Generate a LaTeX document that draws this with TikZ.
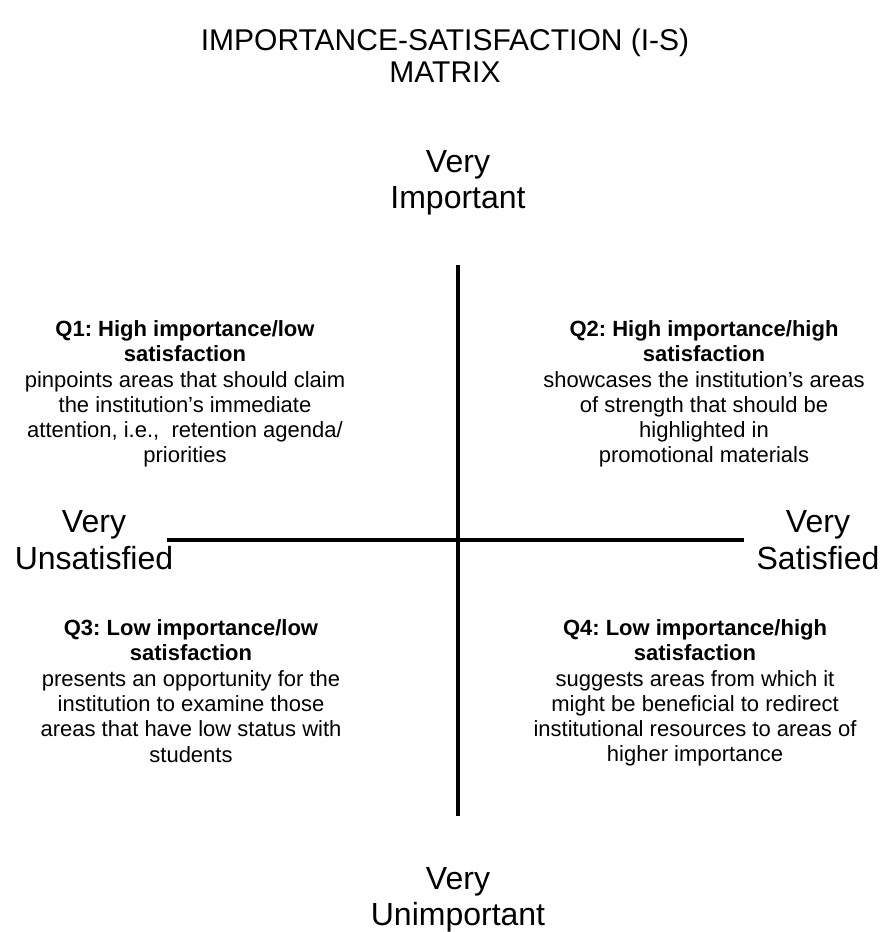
\documentclass[tikz,border=0pt]{standalone}
\usepackage{fontspec}
\setmainfont{Liberation Sans}
\frenchspacing

\tikzset{
  title/.style={align=center, font=\fontsize{30}{32}\selectfont},
  axislabel/.style={align=center, font=\fontsize{32}{36.5}\selectfont},
  quadtext/.style={align=center, inner sep=0pt, font=\fontsize{22}{25.3}\selectfont},
  axisline/.style={line width=3.5pt}
}

\begin{document}
\begin{tikzpicture}[x=1pt,y=-1pt]
\useasboundingbox (0,0) rectangle (886,932);

% Title
\node[title] (title) at (445,56) {IMPORTANCE-SATISFACTION (I-S)\\MATRIX};

% Axes
\coordinate (top) at (458,265);
\coordinate (bottom) at (458,816);
\coordinate (left) at (167,540);
\coordinate (right) at (744,540);
\draw[axisline] (top) -- (bottom);
\draw[axisline] (left) -- (right);

% Axis ends
\node[axislabel] (important) at (458,183) {Very\\Important};
\node[axislabel] (unimportant) at (458,900) {Very\\Unimportant};
\node[axislabel] (unsatisfied) at (94,540) {Very\\Unsatisfied};
\node[axislabel] (satisfied) at (818,540) {Very\\Satisfied};

% Quadrants
\node[quadtext] (q1) at (185,394) {\textbf{Q1: High importance/low}\\\textbf{satisfaction}\\pinpoints areas that should claim\\the institution’s immediate\\attention, i.e.,\ \ retention agenda/\\priorities};
\node[quadtext] (q2) at (704,394) {\textbf{Q2: High importance/high}\\\textbf{satisfaction}\\showcases the institution’s areas\\of strength that should be\\highlighted in\\promotional materials};
\node[quadtext] (q3) at (191,691) {\textbf{Q3: Low importance/low}\\\textbf{satisfaction}\\presents an opportunity for the\\institution to examine those\\areas that have low status with\\students};
\node[quadtext] (q4) at (695,693) {\textbf{Q4: Low importance/high}\\\textbf{satisfaction}\\suggests areas from which it\\might be beneficial to redirect\\institutional resources to areas of\\higher importance};
\end{tikzpicture}
\end{document}
